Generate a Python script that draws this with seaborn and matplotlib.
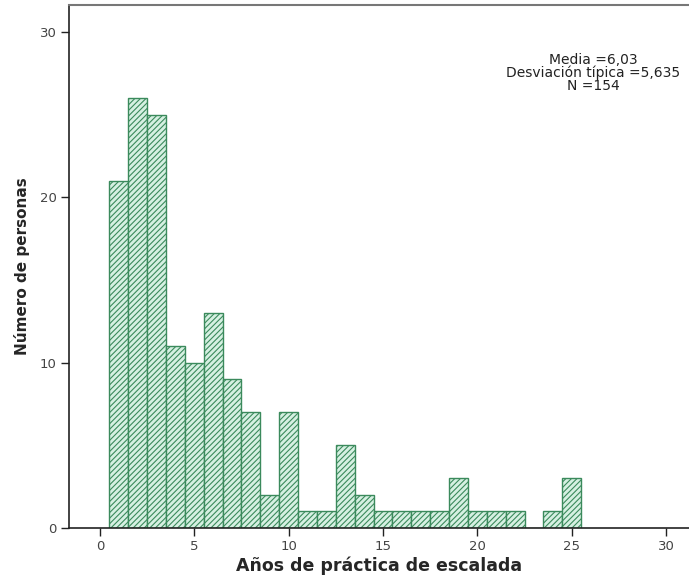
import matplotlib
matplotlib.use("Agg")
import matplotlib.pyplot as plt
import seaborn as sns
import numpy as np

# Data: years of climbing practice (bin centers) and number of people
years = list(range(1, 26))
counts = [21, 26, 25, 11, 10, 13, 9, 7, 2, 7, 1, 1, 5, 2, 1, 1, 1, 1, 3, 1, 1, 1, 0, 1, 3]
xticks = [0, 5, 10, 15, 20, 25, 30]
yticks = [0, 10, 20, 30]
stats_text = "Media =6,03\nDesviación típica =5,635\nN =154"
xlabel = "Años de práctica de escalada"
ylabel = "Número de personas"

sns.set_style("white")
plt.rcParams["font.family"] = ["DejaVu Sans"]
plt.rcParams["hatch.color"] = "#3b8a5c"
plt.rcParams["hatch.linewidth"] = 0.8

fig = plt.figure(figsize=(6.89, 5.79), dpi=100)
ax = fig.add_axes([0.1001, 0.0881, 0.8999, 0.9033])

sns.histplot(x=years, weights=counts, binwidth=1, binrange=(0.5, 25.5),
             color="#d6f0e2", edgecolor="#3b8a5c", linewidth=1.0, alpha=1,
             ax=ax)
for p in ax.patches:
    p.set_hatch("//////")
    p.set_facecolor("#d6f0e2")
    p.set_edgecolor("#3b8a5c")

ax.set_xlim(-1.64, 31.21)
ax.set_ylim(0, 31.63)
ax.set_xticks(xticks)
ax.set_yticks(yticks)
ax.tick_params(axis="both", direction="out", length=6, width=1.0,
               color="#222222", labelsize=9.5, labelcolor="#444444",
               bottom=True, left=True, pad=3)

for s in ["left", "bottom"]:
    ax.spines[s].set_color("#222222")
    ax.spines[s].set_linewidth(1.2)
ax.spines["top"].set_color("#777777")
ax.spines["top"].set_linewidth(1.5)
ax.spines["right"].set_visible(False)

ax.set_xlabel(xlabel, fontsize=12.5, fontweight="bold", labelpad=2)
ax.set_ylabel(ylabel, fontsize=11, fontweight="bold", labelpad=7)

ax.text(0.845, 0.870, stats_text, transform=ax.transAxes, ha="center",
        va="center", fontsize=10, linespacing=0.9, color="#222222")

fig.savefig("out.png", dpi=100)
